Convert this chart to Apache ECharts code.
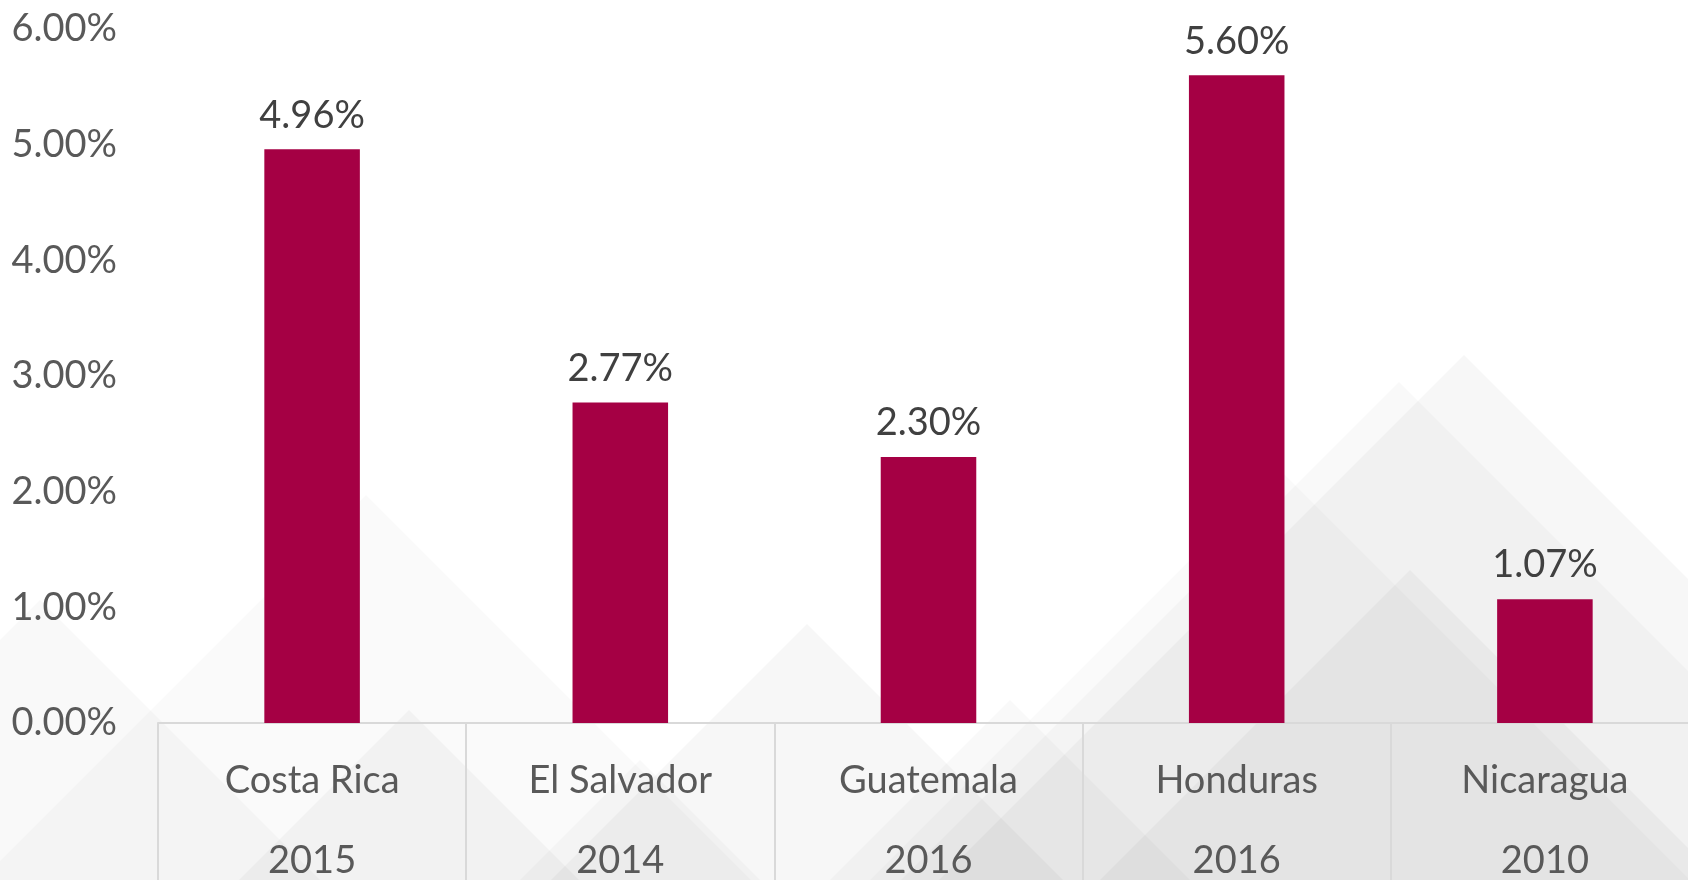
<!DOCTYPE html>
<html>
<head>
<meta charset="utf-8">
<script src="https://cdn.jsdelivr.net/npm/echarts@6/dist/echarts.min.js"></script>
<style>
  html, body { margin: 0; padding: 0; background: #ffffff; }
  #chart { width: 1688px; height: 880px; }
</style>
</head>
<body>
<div id="chart"></div>
<script>
// data
const countries = ['Costa Rica', 'El Salvador', 'Guatemala', 'Honduras', 'Nicaragua']
const years = ['2015', '2014', '2016', '2016', '2010']
const shares = [4.96, 2.77, 2.30, 5.60, 1.07]   // percent
const yTicks = [0, 1, 2, 3, 4, 5, 6]

// faint mountain shapes in the background (decoration only)
const mountains = [
  { apex: [1464, 355], a: 0.03 },
  { apex: [1399, 382], a: 0.025 },
  { apex: [1410, 570], a: 0.03 },
  { apex: [1280, 470], a: 0.02 },
  { apex: [366, 495], a: 0.02 },
  { apex: [807, 624], a: 0.03 },
  { apex: [409, 710], a: 0.03 },
  { apex: [40, 600], a: 0.025 },
  { apex: [640, 760], a: 0.025 },
  { apex: [1010, 700], a: 0.025 }
]

const bgGraphics = mountains.map(m => {
  const h = 880 - m.apex[1]
  return {
    type: 'polygon',
    silent: true,
    z: -10,
    shape: { points: [m.apex, [m.apex[0] - h, 880], [m.apex[0] + h, 880]] },
    style: { fill: 'rgba(0,0,0,' + m.a + ')' }
  }
})

const chart = echarts.init(document.getElementById('chart'))
chart.setOption({
  backgroundColor: '#ffffff',
  animation: false,
  graphic: bgGraphics,
  grid: { left: 158, top: 29, bottom: 157, width: 1541, containLabel: false, outerBoundsMode: 'none' },
  xAxis: {
    type: 'category',
    data: countries,
    boundaryGap: true,
    axisLine: { show: true, lineStyle: { color: '#d9d9d9', width: 2 } },
    axisTick: { show: true, length: 170, lineStyle: { color: '#d9d9d9', width: 2 } },
    axisLabel: {
      margin: 18,
      fontFamily: 'Lato',
      fontSize: 38,
      lineHeight: 80,
      color: '#595959',
      formatter: (v, i) => v + '\n' + years[i]
    }
  },
  yAxis: {
    type: 'value',
    min: yTicks[0],
    max: yTicks[yTicks.length - 1],
    interval: 1,
    axisLine: { show: false },
    axisTick: { show: false },
    splitLine: { show: false },
    axisLabel: {
      margin: 41,
      fontFamily: 'Lato',
      fontSize: 38,
      color: '#595959',
      formatter: v => v.toFixed(2) + '%'
    }
  },
  series: [{
    type: 'bar',
    data: shares,
    barWidth: '31%',
    itemStyle: { color: '#a50044' },
    label: {
      show: true,
      position: 'top',
      distance: 15,
      fontFamily: 'Lato',
      fontSize: 38,
      color: '#404040',
      formatter: p => p.value.toFixed(2) + '%'
    }
  }]
})
</script>
</body>
</html>
